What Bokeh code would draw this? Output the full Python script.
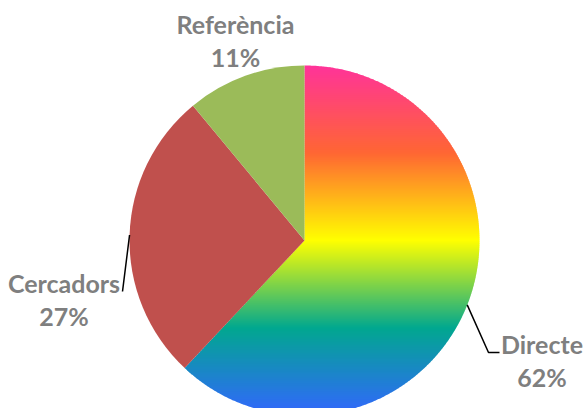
import numpy as np
from bokeh.plotting import figure
from bokeh.models import Range1d
from bokeh.embed import file_html
from bokeh.resources import INLINE
from bokeh.core.properties import value

# ---- data ----
categories = ["Directe", "Cercadors", "Referència"]
values = [62, 27, 11]
slice_colors = [None, "#C0504D", "#9BBB59"]          # None -> gradient fill
gradient_stops = [0.0, 0.25, 0.5, 0.75, 1.0]
gradient_colors = ["#FF3399", "#FF6633", "#FFFF00", "#01A78F", "#3366FF"]

# ---- layout (picture pixels) ----
CX, CY, R = 304, 240, 175
OX, OY = 0, 0
W, H = 585, 408
label_layout = {            # center x, baseline of first line, leader end points
    "Directe":    (541.5, 343, [(488, 352), (499, 352)]),
    "Cercadors":  (63.5, 282, [(122, 291)]),
    "Referència": (235, 23, []),
}
LINE_GAP = 33
FONT = "Lato"
FONT_SIZE = "25px"
TEXT_COLOR = "#7F7F7F"


def dx(px):
    return (px - CX) / R


def dy(py):
    return (CY - py) / R


def hex2rgb(h):
    h = h.lstrip("#")
    return tuple(int(h[i:i + 2], 16) for i in (0, 2, 4))


def grad(t):
    t = min(max(t, 0.0), 1.0)
    for i in range(len(gradient_stops) - 1):
        if t <= gradient_stops[i + 1]:
            f = (t - gradient_stops[i]) / (gradient_stops[i + 1] - gradient_stops[i])
            a = hex2rgb(gradient_colors[i])
            b = hex2rgb(gradient_colors[i + 1])
            c = [round(a[k] + f * (b[k] - a[k])) for k in range(3)]
            return "#%02x%02x%02x" % tuple(c)
    return gradient_colors[-1]


def clip_band(poly, ylo, yhi):
    def clip_half(pts, keep, yline):
        out = []
        n = len(pts)
        for i in range(n):
            cur = pts[i]
            prev = pts[i - 1]
            cin, pin = keep(cur), keep(prev)
            if cin != pin:
                t = (yline - prev[1]) / (cur[1] - prev[1])
                out.append((prev[0] + t * (cur[0] - prev[0]), yline))
            if cin:
                out.append(cur)
        return out
    pts = clip_half(poly, lambda q: q[1] >= ylo, ylo)
    if len(pts) < 3:
        return []
    pts = clip_half(pts, lambda q: q[1] <= yhi, yhi)
    return pts if len(pts) >= 3 else []


p = figure(width=W, height=H,
           x_range=Range1d(dx(OX), dx(OX + W)),
           y_range=Range1d(dy(OY + H), dy(OY)),
           output_backend="svg", toolbar_location=None, min_border=0)
p.axis.visible = False
p.grid.visible = False
p.outline_line_color = None
p.background_fill_color = "white"

total = float(sum(values))
cum = 0.0
mids = {}
for cat, v, col in zip(categories, values, slice_colors):
    a0 = np.pi / 2 - 2 * np.pi * cum / total
    a1 = np.pi / 2 - 2 * np.pi * (cum + v) / total
    mids[cat] = (a0 + a1) / 2
    cum += v
    if col is not None:
        p.wedge(x=0, y=0, radius=1, start_angle=a1, end_angle=a0,
                direction="anticlock", fill_color=col, line_color=None)
    else:
        angs = np.linspace(a0, a1, 600)
        poly = [(0.0, 0.0)] + [(float(np.cos(a)), float(np.sin(a))) for a in angs]
        nb = 175
        edges = np.linspace(1.0, -1.0, nb + 1)
        ov = 0.8 / R
        xs, ys, cs = [], [], []
        for i in range(nb):
            yhi, ylo = edges[i], edges[i + 1]
            pts = clip_band(poly, ylo - ov, yhi)
            if not pts:
                continue
            xs.append([q[0] for q in pts])
            ys.append([q[1] for q in pts])
            cs.append(grad((1 - (yhi + ylo) / 2) / 2))
        p.patches(xs=xs, ys=ys, fill_color=cs, line_color=None)

# leader lines and labels
for cat, v in zip(categories, values):
    cxp, base, pts = label_layout[cat]
    if pts:
        a = mids[cat]
        lx = [float(np.cos(a))] + [dx(q[0]) for q in pts]
        ly = [float(np.sin(a))] + [dy(q[1]) for q in pts]
        p.line(lx, ly, line_color="black", line_width=1.5)
    pct = "%d%%" % round(100 * v / total)
    p.text(x=[dx(cxp), dx(cxp)], y=[dy(base), dy(base + LINE_GAP)], text=[cat, pct],
           text_align="center", text_baseline="alphabetic",
           text_font=value(FONT), text_font_style="bold",
           text_font_size=FONT_SIZE, text_color=TEXT_COLOR)

open("out.html", "w").write(file_html(p, INLINE))
